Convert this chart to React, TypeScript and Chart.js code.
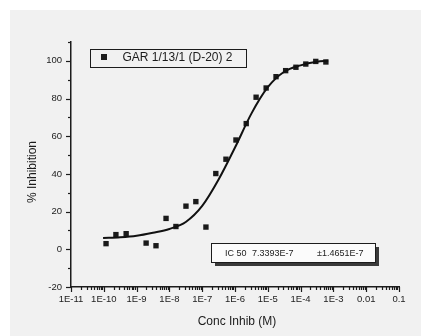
import React, { useEffect, useRef } from "react";
import { Chart, registerables } from "chart.js";

Chart.register(...registerables);

// Measured points (concentration in M, % inhibition)
const concentrations = [
  1.17e-10, 2.34e-10, 4.8e-10, 1.95e-9, 3.9e-9, 7.9e-9, 1.58e-8, 3.2e-8, 6.4e-8,
  1.3e-7, 2.6e-7, 5.3e-7, 1.07e-6, 2.2e-6, 4.4e-6, 8.9e-6, 1.78e-5, 3.5e-5,
  7.2e-5, 1.44e-4, 2.9e-4, 5.9e-4,
];
const inhibition = [
  3.0, 7.8, 8.3, 3.3, 1.9, 16.4, 12.1, 22.9, 25.3, 11.8, 40.2, 47.8, 58.0, 66.7,
  80.7, 85.6, 91.6, 94.8, 96.6, 98.3, 99.7, 99.4,
];

// Fitted curve
const curveConc = [
  9.5e-11, 3.16e-10, 1e-9, 3.16e-9, 1e-8, 3.16e-8, 1e-7, 3.16e-7, 1e-6, 3.16e-6,
  1e-5, 3.16e-5, 1e-4, 3.16e-4, 6.9e-4,
];
const curveInhib = [
  6.0, 6.4, 7.2, 8.8, 10.8, 14.5, 23.0, 37.0, 54.0, 72.0, 86.0, 94.2, 97.6, 99.5,
  100.0,
];

const xTickValues = [1e-11, 1e-10, 1e-9, 1e-8, 1e-7, 1e-6, 1e-5, 1e-4, 1e-3, 1e-2, 1e-1];
const xTickLabels = ["1E-11", "1E-10", "1E-9", "1E-8", "1E-7", "1E-6", "1E-5", "1E-4", "1E-3", "0.01", "0.1"];

const seriesName = "GAR 1/13/1 (D-20) 2";
const ic50Label = "IC 50";
const ic50Value = "7.3393E-7";
const ic50Error = "±1.4651E-7";
const xTitle = "Conc Inhib (M)";
const yTitle = "% Inhibition";

const FONT = "'Liberation Sans', Arial, sans-serif";
const INK = "#1c1c1c";

const decorPlugin = {
  id: "decor",
  beforeDraw(chart: any) {
    const { ctx, width, height } = chart;
    ctx.save();
    ctx.fillStyle = "#f1f1f1";
    ctx.fillRect(0, 0, width, height);
    ctx.restore();
  },
  afterDraw(chart: any) {
    const { ctx, chartArea } = chart;
    const xs = chart.scales.x;
    const ys = chart.scales.y;
    ctx.save();
    ctx.strokeStyle = INK;
    ctx.lineWidth = 1.2;
    // y ticks
    ys.ticks.forEach((t: any) => {
      const py = Math.round(ys.getPixelForValue(t.value)) + 0.5;
      const major = t.value % 20 === 0 && t.value <= 100;
      const len = major ? 5 : 3;
      ctx.beginPath();
      ctx.moveTo(chartArea.left - len, py);
      ctx.lineTo(chartArea.left, py);
      ctx.stroke();
    });
    // x ticks
    xTickValues.forEach((v, i) => {
      const px = Math.round(xs.getPixelForValue(v)) + 0.5;
      ctx.beginPath();
      ctx.moveTo(px, chartArea.bottom);
      ctx.lineTo(px, chartArea.bottom + 5);
      ctx.stroke();
      if (i < xTickValues.length - 1) {
        for (let m = 2; m <= 9; m++) {
          const mx = Math.round(xs.getPixelForValue(v * m)) + 0.5;
          ctx.beginPath();
          ctx.moveTo(mx, chartArea.bottom);
          ctx.lineTo(mx, chartArea.bottom + 3);
          ctx.stroke();
        }
      }
    });

    // axis titles
    ctx.fillStyle = INK;
    ctx.font = `12px ${FONT}`;
    ctx.textAlign = "center";
    ctx.textBaseline = "middle";
    ctx.fillText(xTitle, 227, 312);
    ctx.save();
    ctx.translate(23, 162);
    ctx.rotate(-Math.PI / 2);
    ctx.fillText(yTitle, 0, 0);
    ctx.restore();

    // legend box
    ctx.lineWidth = 1;
    ctx.strokeStyle = INK;
    ctx.strokeRect(80.5, 39.5, 156, 18);
    ctx.fillStyle = INK;
    ctx.fillRect(91, 44, 6, 6);
    ctx.textAlign = "left";
    ctx.font = `12px ${FONT}`;
    ctx.fillText(seriesName, 112.5, 47.5);

    // IC50 box with shadow
    ctx.fillStyle = "#3a3a3a";
    ctx.fillRect(205, 237, 164, 19);
    ctx.fillStyle = "#fbfbfb";
    ctx.fillRect(201, 233, 164, 19);
    ctx.strokeStyle = INK;
    ctx.strokeRect(201.5, 233.5, 164, 19);
    ctx.fillStyle = INK;
    ctx.font = `9px ${FONT}`;
    ctx.fillText(ic50Label, 215, 243.5);
    ctx.fillText(ic50Value, 242, 243.5);
    ctx.fillText(ic50Error, 307, 243.5);
    ctx.restore();
  },
};

export default function App() {
  const ref = useRef<HTMLCanvasElement | null>(null);
  useEffect(() => {
    if (!ref.current) return;
    const chart = new Chart(ref.current, {
      type: "scatter",
      data: {
        datasets: [
          {
            type: "line",
            label: "fit",
            data: curveConc.map((c, i) => ({ x: c, y: curveInhib[i] })),
            borderColor: "#111",
            borderWidth: 2,
            pointRadius: 0,
            cubicInterpolationMode: "monotone",
            fill: false,
          } as any,
          {
            label: seriesName,
            data: concentrations.map((c, i) => ({ x: c, y: inhibition[i] })),
            pointStyle: "rect",
            pointRadius: 3.8,
            backgroundColor: "#1a1a1a",
            borderColor: "#1a1a1a",
            borderWidth: 0,
          },
        ],
      },
      options: {
        animation: false,
        responsive: false,
        devicePixelRatio: 1,
        layout: { padding: { left: 0, top: 32, right: 30, bottom: 0 } },
        plugins: {
          legend: { display: false },
          tooltip: { enabled: false },
        },
        scales: {
          x: {
            type: "logarithmic",
            min: 1e-11,
            max: 0.1,
            afterBuildTicks: (scale: any) => {
              scale.ticks = xTickValues.map((v) => ({ value: v }));
            },
            afterFit: (scale: any) => {
              scale.height = 49;
              scale.paddingLeft = 0;
              scale.paddingRight = 0;
            },
            ticks: {
              autoSkip: false,
              maxRotation: 0,
              padding: 7,
              color: INK,
              font: { family: FONT, size: 9.5 },
              callback: (_v: any, i: number) => xTickLabels[i],
            },
            grid: { display: true, drawOnChartArea: false, drawTicks: false },
            border: { display: true, color: INK, width: 1.5 },
          },
          y: {
            type: "linear",
            min: -20,
            max: 110,
            afterFit: (scale: any) => {
              scale.width = 61;
            },
            ticks: {
              stepSize: 10,
              padding: 9,
              color: INK,
              font: { family: FONT, size: 9.5 },
              callback: (v: any) => (v % 20 === 0 && v <= 100 ? String(v) : ""),
            },
            grid: { display: true, drawOnChartArea: false, drawTicks: false },
            border: { display: true, color: INK, width: 1.5 },
          },
        },
      },
      plugins: [decorPlugin],
    } as any);
    return () => chart.destroy();
  }, []);
  return (
    <div style={{ margin: 2 }}>
      <canvas ref={ref} width={419} height={326} style={{ display: "block" }} />
    </div>
  );
}
